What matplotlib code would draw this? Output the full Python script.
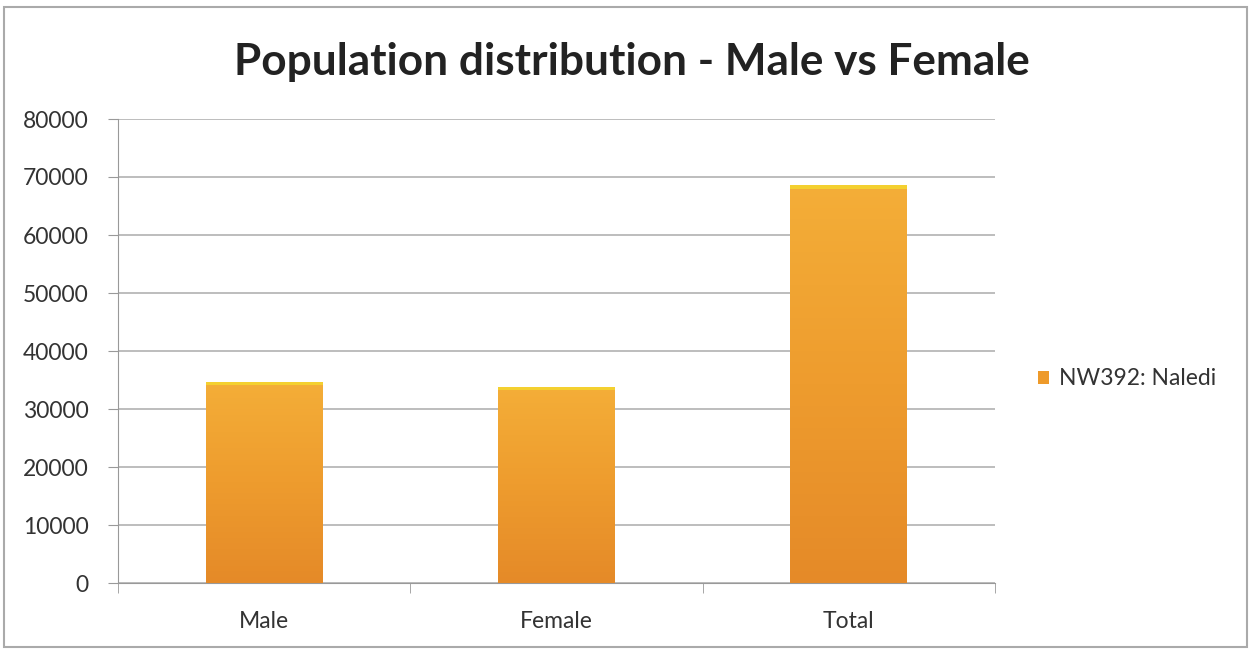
import numpy as np
import matplotlib
matplotlib.use("Agg")
import matplotlib.pyplot as plt
from matplotlib.patches import Rectangle

plt.rcParams['font.family'] = ['Lato', 'DejaVu Sans']

categories = ['Male', 'Female', 'Total']
population = [34700, 33800, 68600]
series_name = 'NW392: Naledi'
yticks = [0, 10000, 20000, 30000, 40000, 50000, 60000, 70000, 80000]

fig = plt.figure(figsize=(12.53, 6.5), dpi=100)
ax = fig.add_axes([118/1253, 1-583/650, 877/1253, 464/650])

x = np.arange(len(categories))
bars = ax.bar(x, population, width=0.40, color='#EE9A2A', edgecolor='none',
              label=series_name, zorder=2)

# gradient fill inside each bar (lighter top -> deeper orange bottom)
grad = np.linspace(0, 1, 256).reshape(-1, 1)
cmap = matplotlib.colors.LinearSegmentedColormap.from_list(
    'og', ['#F4AE38', '#EE9C2E', '#E58A28'])
for b in bars:
    x0, y0 = b.get_x(), b.get_y()
    w, h = b.get_width(), b.get_height()
    im = ax.imshow(grad, extent=[x0, x0 + w, y0, y0 + h], aspect='auto',
                   cmap=cmap, zorder=3, origin='upper')
    im.set_clip_path(b)
    # bright top edge
    ax.add_patch(Rectangle((x0, y0 + h - 600), w, 600, color='#F4D030',
                           zorder=4, lw=0))

ax.set_xlim(-0.5, 2.5)
ax.set_ylim(0, 80000)
ax.set_yticks(yticks)
ax.set_yticklabels([str(v) for v in yticks], fontsize=16.5, color='#333333')
ax.set_xticks(x)
ax.set_xticklabels(categories, fontsize=16.5, color='#333333')
ax.xaxis.set_minor_locator(matplotlib.ticker.FixedLocator([-0.5, 0.5, 1.5, 2.5]))
ax.tick_params(axis='x', which='major', length=0, pad=20)
ax.tick_params(axis='x', which='minor', length=7, color='#999999')
ax.tick_params(axis='y', length=7, color='#999999', pad=14)

ax.grid(axis='y', color='#b8b8b8', lw=1.3, zorder=0)
ax.set_axisbelow(True)
for s in ['top', 'right']:
    ax.spines[s].set_visible(False)
ax.spines['left'].set_color('#999999')
ax.spines['bottom'].set_color('#999999')

fig.suptitle('Population distribution - Male vs Female', fontsize=31.8,
             fontweight='bold', color='#222222', x=0.504, y=0.935)

leg = ax.legend(loc='center left', bbox_to_anchor=(1.025, 0.44), frameon=False,
                fontsize=16.5, handlelength=0.5, handleheight=0.5, handletextpad=0.45)
for t in leg.get_texts():
    t.set_color('#333333')

fig.add_artist(Rectangle((0.003, 0.005), 0.992, 0.985, transform=fig.transFigure,
                         fill=False, edgecolor='#aaaaaa', lw=1.5))

fig.savefig('out.png', dpi=100)
